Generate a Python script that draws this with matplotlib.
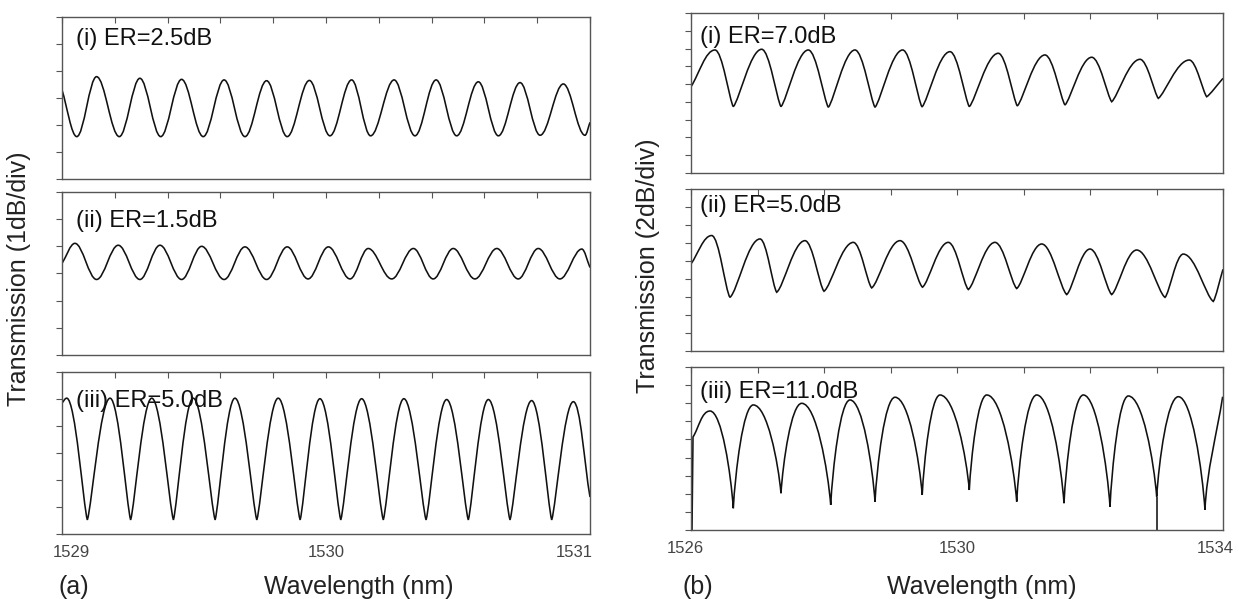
import matplotlib
matplotlib.use('Agg')
import matplotlib.pyplot as plt
import matplotlib.transforms as mtransforms
from matplotlib.path import Path
from matplotlib.patches import PathPatch
from matplotlib.ticker import MultipleLocator, FixedLocator

plt.rcParams['font.family'] = ['Liberation Sans', 'DejaVu Sans']

# ---- data: turning points of each spectrum (nm, dB) ----
# (a) 1 dB/div
wl_a1 = [1529.000, 1529.056, 1529.131, 1529.217, 1529.295, 1529.374, 1529.453, 1529.535, 1529.614,
         1529.693, 1529.775, 1529.853, 1529.937, 1530.015, 1530.097, 1530.169, 1530.258, 1530.337,
         1530.417, 1530.495, 1530.577, 1530.653, 1530.735, 1530.811, 1530.899, 1530.981, 1531.000]
db_a1 = [-2.7, -4.43, -2.21, -4.43, -2.27, -4.43, -2.31, -4.43, -2.33, -4.43, -2.36, -4.43, -2.35,
         -4.40, -2.33, -4.40, -2.33, -4.40, -2.33, -4.40, -2.40, -4.40, -2.43, -4.38, -2.48, -4.38, -3.9]

wl_a2 = [1529.000, 1529.049, 1529.131, 1529.213, 1529.295, 1529.371, 1529.453, 1529.529, 1529.614,
         1529.693, 1529.775, 1529.853, 1529.932, 1530.009, 1530.091, 1530.160, 1530.249, 1530.331,
         1530.406, 1530.482, 1530.564, 1530.647, 1530.728, 1530.804, 1530.886, 1530.969, 1531.000]
db_a2 = [-2.63, -1.89, -3.22, -1.96, -3.22, -1.96, -3.22, -2.0, -3.22, -2.02, -3.22, -2.02, -3.2,
         -2.02, -3.2, -2.08, -3.2, -2.08, -3.2, -2.08, -3.2, -2.08, -3.2, -2.08, -3.2, -2.1, -2.78]

wl_a3 = [1529.000, 1529.018, 1529.096, 1529.182, 1529.260, 1529.340, 1529.422, 1529.497, 1529.580,
         1529.655, 1529.738, 1529.819, 1529.902, 1529.977, 1530.056, 1530.135, 1530.217, 1530.295,
         1530.379, 1530.457, 1530.539, 1530.615, 1530.697, 1530.779, 1530.855, 1530.937, 1531.000]
db_a3 = [-1.15, -0.97, -5.48, -0.97, -5.48, -0.97, -5.48, -0.97, -5.48, -0.97, -5.48, -0.97, -5.48,
         -0.99, -5.48, -0.99, -5.48, -0.99, -5.48, -1.02, -5.48, -1.02, -5.48, -1.06, -5.48, -1.1, -4.63]

# (b) 2 dB/div
wl_b1 = [1526.000, 1526.361, 1526.636, 1527.063, 1527.353, 1527.764, 1528.065, 1528.466, 1528.767,
         1529.183, 1529.474, 1529.895, 1530.185, 1530.621, 1530.907, 1531.323, 1531.624, 1532.026,
         1532.326, 1532.752, 1533.027, 1533.493, 1533.755, 1534.000]
db_b1 = [-8.29, -4.16, -10.54, -4.08, -10.54, -4.16, -10.61, -4.16, -10.61, -4.16, -10.57, -4.35,
         -10.54, -4.53, -10.46, -4.72, -10.35, -4.98, -9.98, -5.21, -9.60, -5.29, -9.42, -7.35]

wl_b2 = [1526.000, 1526.311, 1526.586, 1527.038, 1527.289, 1527.714, 1528.000, 1528.441, 1528.717,
         1529.143, 1529.481, 1529.869, 1530.170, 1530.571, 1530.898, 1531.274, 1531.650, 1532.000,
         1532.326, 1532.702, 1533.128, 1533.403, 1533.854, 1534.000]
db_b2 = [-8.32, -5.17, -12.04, -5.55, -11.47, -5.74, -11.36, -5.93, -10.99, -5.74, -10.91, -5.93,
         -11.17, -5.93, -11.06, -6.11, -11.73, -6.67, -11.73, -6.78, -12.04, -7.23, -12.49, -8.92]

wl_b3 = [1526.015, 1526.030, 1526.286, 1526.636, 1526.937, 1527.353, 1527.665, 1528.101, 1528.391,
         1528.767, 1529.068, 1529.477, 1529.744, 1530.185, 1530.447, 1530.898, 1531.198, 1531.609,
         1531.899, 1532.301, 1532.576, 1533.003, 1533.328, 1533.729, 1533.995]
db_b3 = [-18.0, -7.73, -4.86, -15.60, -4.19, -13.94, -4.01, -15.23, -3.64, -14.87, -3.34, -14.13,
         -3.09, -13.58, -3.09, -14.87, -3.09, -15.04, -3.09, -15.42, -3.20, -14.32, -3.28, -15.78, -3.28]
spike_b3_wl = [1533.003]
spike_b3_top = [-14.32]

labels_a = ['(i) ER=2.5dB', '(ii) ER=1.5dB', '(iii) ER=5.0dB']
labels_b = ['(i) ER=7.0dB', '(ii) ER=5.0dB', '(iii) ER=11.0dB']
xticks_a = [1529, 1530, 1531]
xticks_b = [1526, 1530, 1534]

W, H = 1239, 599


def px_rect(left, top, right, bottom):
    return [left / W, 1 - bottom / H, (right - left) / W, (bottom - top) / H]


def add_curve(ax, wl, db, peak_a, trough_a, trough_s):
    # smooth bezier segments between the turning points
    n = len(wl)
    kinds = []
    for i in range(n):
        if 0 < i < n - 1 and db[i] > db[i - 1] and db[i] > db[i + 1]:
            kinds.append('peak')
        elif 0 < i < n - 1 and db[i] < db[i - 1] and db[i] < db[i + 1]:
            kinds.append('trough')
        else:
            kinds.append('mid')

    def handle(i, j):
        dx = wl[j] - wl[i]
        dy = db[j] - db[i]
        if kinds[i] == 'peak':
            return (wl[i] + peak_a * dx, db[i])
        if kinds[i] == 'trough':
            return (wl[i] + trough_a * dx, db[i] + trough_s * dy)
        return (wl[i] + dx / 3, db[i] + dy / 3)

    verts = [(wl[0], db[0])]
    codes = [Path.MOVETO]
    for i in range(n - 1):
        verts += [handle(i, i + 1), handle(i + 1, i), (wl[i + 1], db[i + 1])]
        codes += [Path.CURVE4] * 3
    ax.add_patch(PathPatch(Path(verts, codes), fill=False, edgecolor='#111111', lw=1.15))


def style_axes(ax, xlim, xmajor, xminor, ylim, ystep, show_labels, label_shift):
    ax.set_xlim(*xlim)
    ax.set_ylim(*ylim)
    ax.xaxis.set_major_locator(FixedLocator(xmajor))
    ax.xaxis.set_minor_locator(MultipleLocator(xminor))
    ax.set_xticklabels([str(t) for t in xmajor])
    ax.yaxis.set_major_locator(MultipleLocator(ystep))
    ax.tick_params(axis='x', which='both', direction='in', top=True, bottom=False,
                   length=4, width=0.8, color='#555555', labelbottom=show_labels,
                   labelsize=12, labelcolor='#444444', pad=8)
    ax.tick_params(axis='y', which='both', direction='out', left=True, right=False,
                   length=4, width=0.8, color='#555555', labelleft=False)
    for sp in ax.spines.values():
        sp.set_color('#555555')
        sp.set_linewidth(1.0)
    if show_labels:
        for lab, dx in zip(ax.get_xticklabels(), label_shift):
            off = mtransforms.ScaledTranslation(dx / 100, 0, ax.figure.dpi_scale_trans)
            lab.set_transform(lab.get_transform() + off)


fig = plt.figure(figsize=(12.39, 5.99), dpi=100)

rows_a = [(17, 179), (192, 355), (372, 534)]
rows_b = [(13, 173), (189, 351), (367, 530)]
label_base_a = [28, 35, 35]
label_base_b = [30, 23, 31]

curves_a = [(wl_a1, db_a1, 0.36, 0.36, 0.0),
            (wl_a2, db_a2, 0.36, 0.36, 0.0),
            (wl_a3, db_a3, 0.42, 0.2, 0.12)]
curves_b = [(wl_b1, db_b1, 0.4, 0.22, 0.12),
            (wl_b2, db_b2, 0.4, 0.25, 0.1),
            (wl_b3, db_b3, 0.5, 0.1, 0.35)]

for k in range(3):
    top, bot = rows_a[k]
    ax = fig.add_axes(px_rect(62, top, 590, bot))
    wl, db, pa, ta, ts = curves_a[k]
    add_curve(ax, wl, db, pa, ta, ts)
    style_axes(ax, (1529, 1531), xticks_a, 0.2, (-6, 0), 1, k == 2, [9, 0, -16])
    ax.text(14 / 528, 1 - label_base_a[k] / (bot - top), labels_a[k], transform=ax.transAxes,
            ha='left', va='baseline', fontsize=17, color='#111111')

for k in range(3):
    top, bot = rows_b[k]
    ax = fig.add_axes(px_rect(691, top, 1223, bot))
    wl, db, pa, ta, ts = curves_b[k]
    add_curve(ax, wl, db, pa, ta, ts)
    if k == 2:
        ax.vlines(spike_b3_wl, -18, spike_b3_top, color='#111111', lw=1.15)
    style_axes(ax, (1526, 1534), xticks_b, 1, (-18, 0), 2, k == 2, [-6, 0, -8])
    ax.text(9 / 532, 1 - label_base_b[k] / (bot - top), labels_b[k], transform=ax.transAxes,
            ha='left', va='baseline', fontsize=17, color='#111111')

fig.text(19 / W, 1 - 279 / H, 'Transmission (1dB/div)', rotation=90, ha='center', va='center',
         fontsize=18, color='#222222')
fig.text(648 / W, 1 - 266 / H, 'Transmission (2dB/div)', rotation=90, ha='center', va='center',
         fontsize=18, color='#222222')
fig.text(358.5 / W, 1 - 594 / H, 'Wavelength (nm)', ha='center', va='baseline', fontsize=18,
         color='#222222')
fig.text(982 / W, 1 - 594 / H, 'Wavelength (nm)', ha='center', va='baseline', fontsize=18,
         color='#222222')
fig.text(58 / W, 1 - 594 / H, '(a)', ha='left', va='baseline', fontsize=18, color='#222222')
fig.text(683 / W, 1 - 594 / H, '(b)', ha='left', va='baseline', fontsize=18, color='#222222')

fig.savefig('out.png', dpi=100)
